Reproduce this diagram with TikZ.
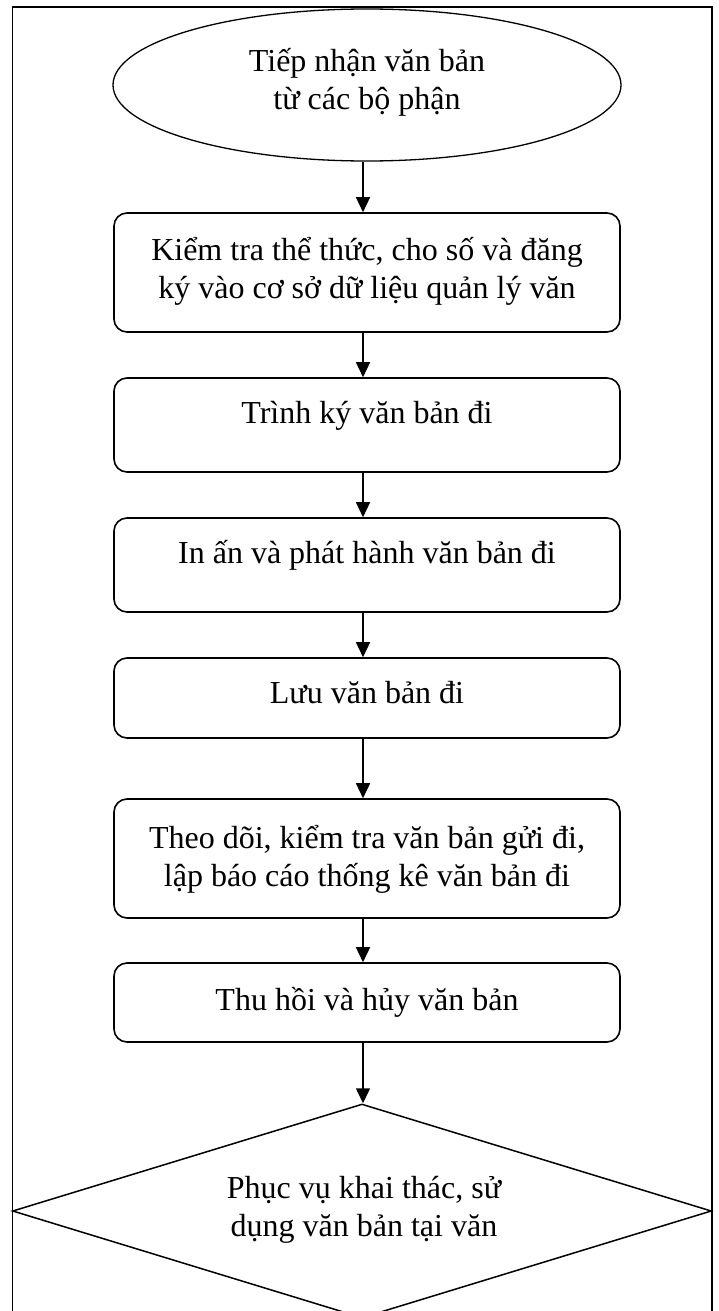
\documentclass[tikz,border=0pt]{standalone}
\usepackage{fontspec}
\setmainfont{Liberation Serif}
\usetikzlibrary{shapes.geometric,arrows.meta,calc}

\begin{document}
\begin{tikzpicture}[x=1pt,y=-1pt,
  stepbox/.style={draw, line width=1.6pt, rounded corners=13pt,
    minimum width=506pt, inner sep=0pt},
  startnode/.style={draw, ellipse, line width=1.3pt, minimum width=508pt,
    minimum height=152pt, inner sep=0pt},
  endnode/.style={draw, diamond, line width=1.5pt, minimum width=699pt,
    minimum height=214pt, inner sep=0pt},
  txt/.style={font=\fontsize{32}{38}\selectfont, inner sep=0pt, anchor=base},
  flow/.style={-{Triangle[length=15pt,width=14pt]}, line width=1.5pt},
]
\useasboundingbox (0,0) rectangle (719,1311);
\clip (0,0) rectangle (719,1311);

% outer frame
\draw[line width=1.6pt] (12.5,6.8) rectangle (712,1340);

% column of the connectors
\coordinate (ax) at (363,0);

% shapes
\node[startnode] (e0) at (367,85) {};
\node[stepbox, minimum height=119pt] (b1) at (367,272.5) {};
\node[stepbox, minimum height=94pt]  (b2) at (367,425) {};
\node[stepbox, minimum height=94pt]  (b3) at (367,565) {};
\node[stepbox, minimum height=80pt]  (b4) at (367,698) {};
\node[stepbox, minimum height=119pt] (b5) at (367,858.5) {};
\node[stepbox, minimum height=79pt]  (b6) at (367,1002.5) {};
\node[endnode] (d) at (362,1211) {};

% labels
\node[txt] (te) at (367,72) {\begin{tabular}[t]{@{}c@{}}Tiếp nhận văn bản\\từ các bộ phận\end{tabular}};
\node[txt] (t1) at (367,260) {\begin{tabular}[t]{@{}c@{}}Kiểm tra thể thức, cho số và đăng\\ký vào cơ sở dữ liệu quản lý văn\end{tabular}};
\node[txt] (t2) at (367,423) {Trình ký văn bản đi};
\node[txt] (t3) at (367,563) {In ấn và phát hành văn bản đi};
\node[txt] (t4) at (367,703) {Lưu văn bản đi};
\node[txt] (t5) at (367,848) {\begin{tabular}[t]{@{}c@{}}Theo dõi, kiểm tra văn bản gửi đi,\\lập báo cáo thống kê văn bản đi\end{tabular}};
\node[txt] (t6) at (367,1010) {Thu hồi và hủy văn bản};
\node[txt] (td) at (364,1198) {\begin{tabular}[t]{@{}c@{}}Phục vụ khai thác, sử\\dụng văn bản tại văn\end{tabular}};

% connectors
\draw[flow] (e0.south -| ax) -- (b1.north -| ax);
\draw[flow] (b1.south -| ax) -- (b2.north -| ax);
\draw[flow] (b2.south -| ax) -- (b3.north -| ax);
\draw[flow] (b3.south -| ax) -- (b4.north -| ax);
\draw[flow] (b4.south -| ax) -- (b5.north -| ax);
\draw[flow] (b5.south -| ax) -- (b6.north -| ax);
\draw[flow] (b6.south -| ax) -- (d.north -| ax);
\end{tikzpicture}
\end{document}
